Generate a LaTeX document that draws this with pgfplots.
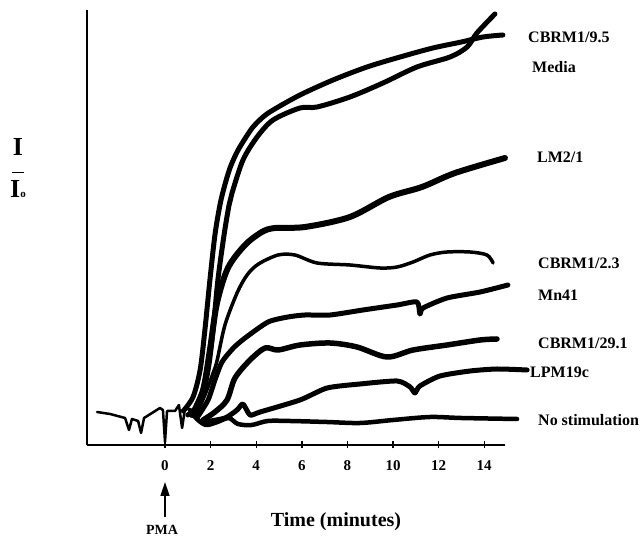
\documentclass[border=0pt]{standalone}
\usepackage{fontspec}
\setmainfont{Liberation Serif}
\usepackage{pgfplots}
\pgfplotsset{compat=1.18}
\usetikzlibrary{arrows.meta}
\begin{document}
\begin{tikzpicture}
\useasboundingbox (-165pt,-92pt) rectangle (479pt,445pt);
\begin{axis}[
  anchor=south west, at={(-78pt,0pt)},
  x=22.8pt, y=1pt,
  xmin=-3.421, xmax=14.91, ymin=0, ymax=435,
  axis lines=left,
  axis line style={-, line width=1.6pt, black},
  xtick={0,2,...,14}, ytick=\empty,
  xtick align=center,
  major tick length=7pt,
  tick style={line width=1.4pt, black},
  xticklabel style={font=\fontsize{15}{15}\selectfont\bfseries, anchor=base, inner sep=0pt, yshift=-22pt},
  /pgf/number format/assume math mode=true,
  clip=false,
  every axis plot/.append style={black, line join=round, line cap=round},
]
% baseline before stimulation
\addplot[line width=2.5pt] coordinates {
(-2.98,33) (-2.41,31) (-1.75,27) (-1.58,15) (-1.45,26) (-1.18,24) (-1.05,12) (-0.92,27)
(-0.57,32) (-0.22,37) (-0.09,35) (0,3) (0.09,34) (0.44,34) (0.61,40) (0.75,17) (0.88,37) (1.1,35)};
% A
\addplot[line width=5pt, smooth, tension=0.5] coordinates {
(0.8,34) (1.23,48) (1.54,75) (1.75,115) (1.97,165) (2.19,210) (2.41,240) (2.6,258) (2.85,277)
(3.16,293) (3.5,306) (3.86,318) (4.3,328) (4.74,335) (5.92,350) (7.37,365) (8.86,378)
(10.31,388) (11.75,397) (13.0,403) (13.95,408) (14.82,410)};
% B
\addplot[line width=5pt, smooth, tension=0.5] coordinates {
(1.0,30) (1.54,42) (1.89,75) (2.11,115) (2.32,165) (2.59,210) (2.81,240) (2.94,252) (3.42,285)
(4.04,308) (4.74,325) (5.92,337) (6.67,338) (8.11,348) (9.56,362) (11.05,378) (12.5,388)
(13.25,398) (13.68,412) (14.47,431)};
% C LM2/1
\addplot[line width=6pt, smooth, tension=0.5] coordinates {
(1.18,30) (1.67,55) (1.97,95) (2.28,142) (2.76,177) (3.51,200) (4.25,213) (4.82,217)
(6.14,218) (8.11,228) (9.82,248) (11.27,258) (12.72,272) (14.91,287)};
% D CBRM1/2.3
\addplot[line width=3.5pt, smooth, tension=0.5] coordinates {
(1.32,28) (1.75,50) (2.11,72) (2.28,84) (2.63,120) (3.16,152) (3.6,170) (4.1,181) (4.96,190)
(5.7,190) (6.67,182) (8.11,180) (9.43,177) (10.18,178) (10.88,183) (11.62,190) (12.37,193)
(13.38,193) (14.12,190) (14.39,182)};
% E Mn41
\addplot[line width=5pt, smooth, tension=0.4] coordinates {
(1.4,27) (1.89,45) (2.19,65) (2.5,83) (3.0,97) (3.51,107) (4.52,123) (5.39,128) (6.14,130)
(7.24,130) (8.68,135) (10.18,140) (11.05,143) (11.18,131) (11.32,137) (12.37,147) (13.82,153) (15.04,160)};
% F CBRM1/29.1
\addplot[line width=5.5pt, smooth, tension=0.5] coordinates {
(1.67,25) (2.19,33) (2.72,45) (3.07,67) (3.73,85) (4.39,97) (4.96,95) (5.92,100) (7.24,102)
(8.42,98) (9.74,88) (10.88,95) (12.37,100) (13.82,105) (14.56,106)};
% G LPM19c
\addplot[line width=5pt, smooth, tension=0.4] coordinates {
(1.75,23) (2.63,27) (3.16,35) (3.42,41) (3.73,30) (4.17,33) (5.92,45) (7.11,57) (8.55,61)
(10.18,64) (10.75,58) (10.96,52) (11.18,59) (12.06,69) (13.38,74) (14.56,76) (15.88,75)};
% H No stimulation
\addplot[line width=4.5pt, smooth, tension=0.5] coordinates {
(1.1,35) (1.4,26) (1.8,20) (2.3,23) (2.8,27) (3.2,21) (3.8,20) (4.5,24) (5.5,24) (7.11,23)
(8.55,22) (10.0,25) (11.62,28) (13.0,27) (15.44,26)};
\end{axis}
\begin{scope}[every node/.style={anchor=west, inner sep=0pt, font=\fontsize{16}{16}\selectfont\bfseries}]
\node at (363pt,408pt) {CBRM1/9.5};
\node at (367pt,378pt) {Media};
\node at (372pt,288pt) {LM2/1};
\node at (373pt,182pt) {CBRM1/2.3};
\node at (373pt,150pt) {Mn41};
\node at (373pt,102pt) {CBRM1/29.1};
\node at (365pt,73pt) {LPM19c};
\node at (373pt,25pt) {No stimulation};
\end{scope}
\node[font=\fontsize{20}{20}\selectfont\bfseries] at (171pt,-77pt) {Time (minutes)};
\node[font=\fontsize{14}{14}\selectfont\bfseries, inner sep=0pt, anchor=base] at (-3pt,-89pt) {PMA};
\draw[line width=1.5pt, -{Triangle[length=14pt,width=9pt]}] (0pt,-72pt) -- (0pt,-37pt);
\node[align=center, inner sep=0pt, font=\fontsize{26}{26}\selectfont\bfseries] at (-147pt,277pt)
  {I\\[-8pt]\rule{12pt}{1.8pt}\\[-2pt]I{\fontsize{11}{11}\selectfont o}};
\end{tikzpicture}
\end{document}
